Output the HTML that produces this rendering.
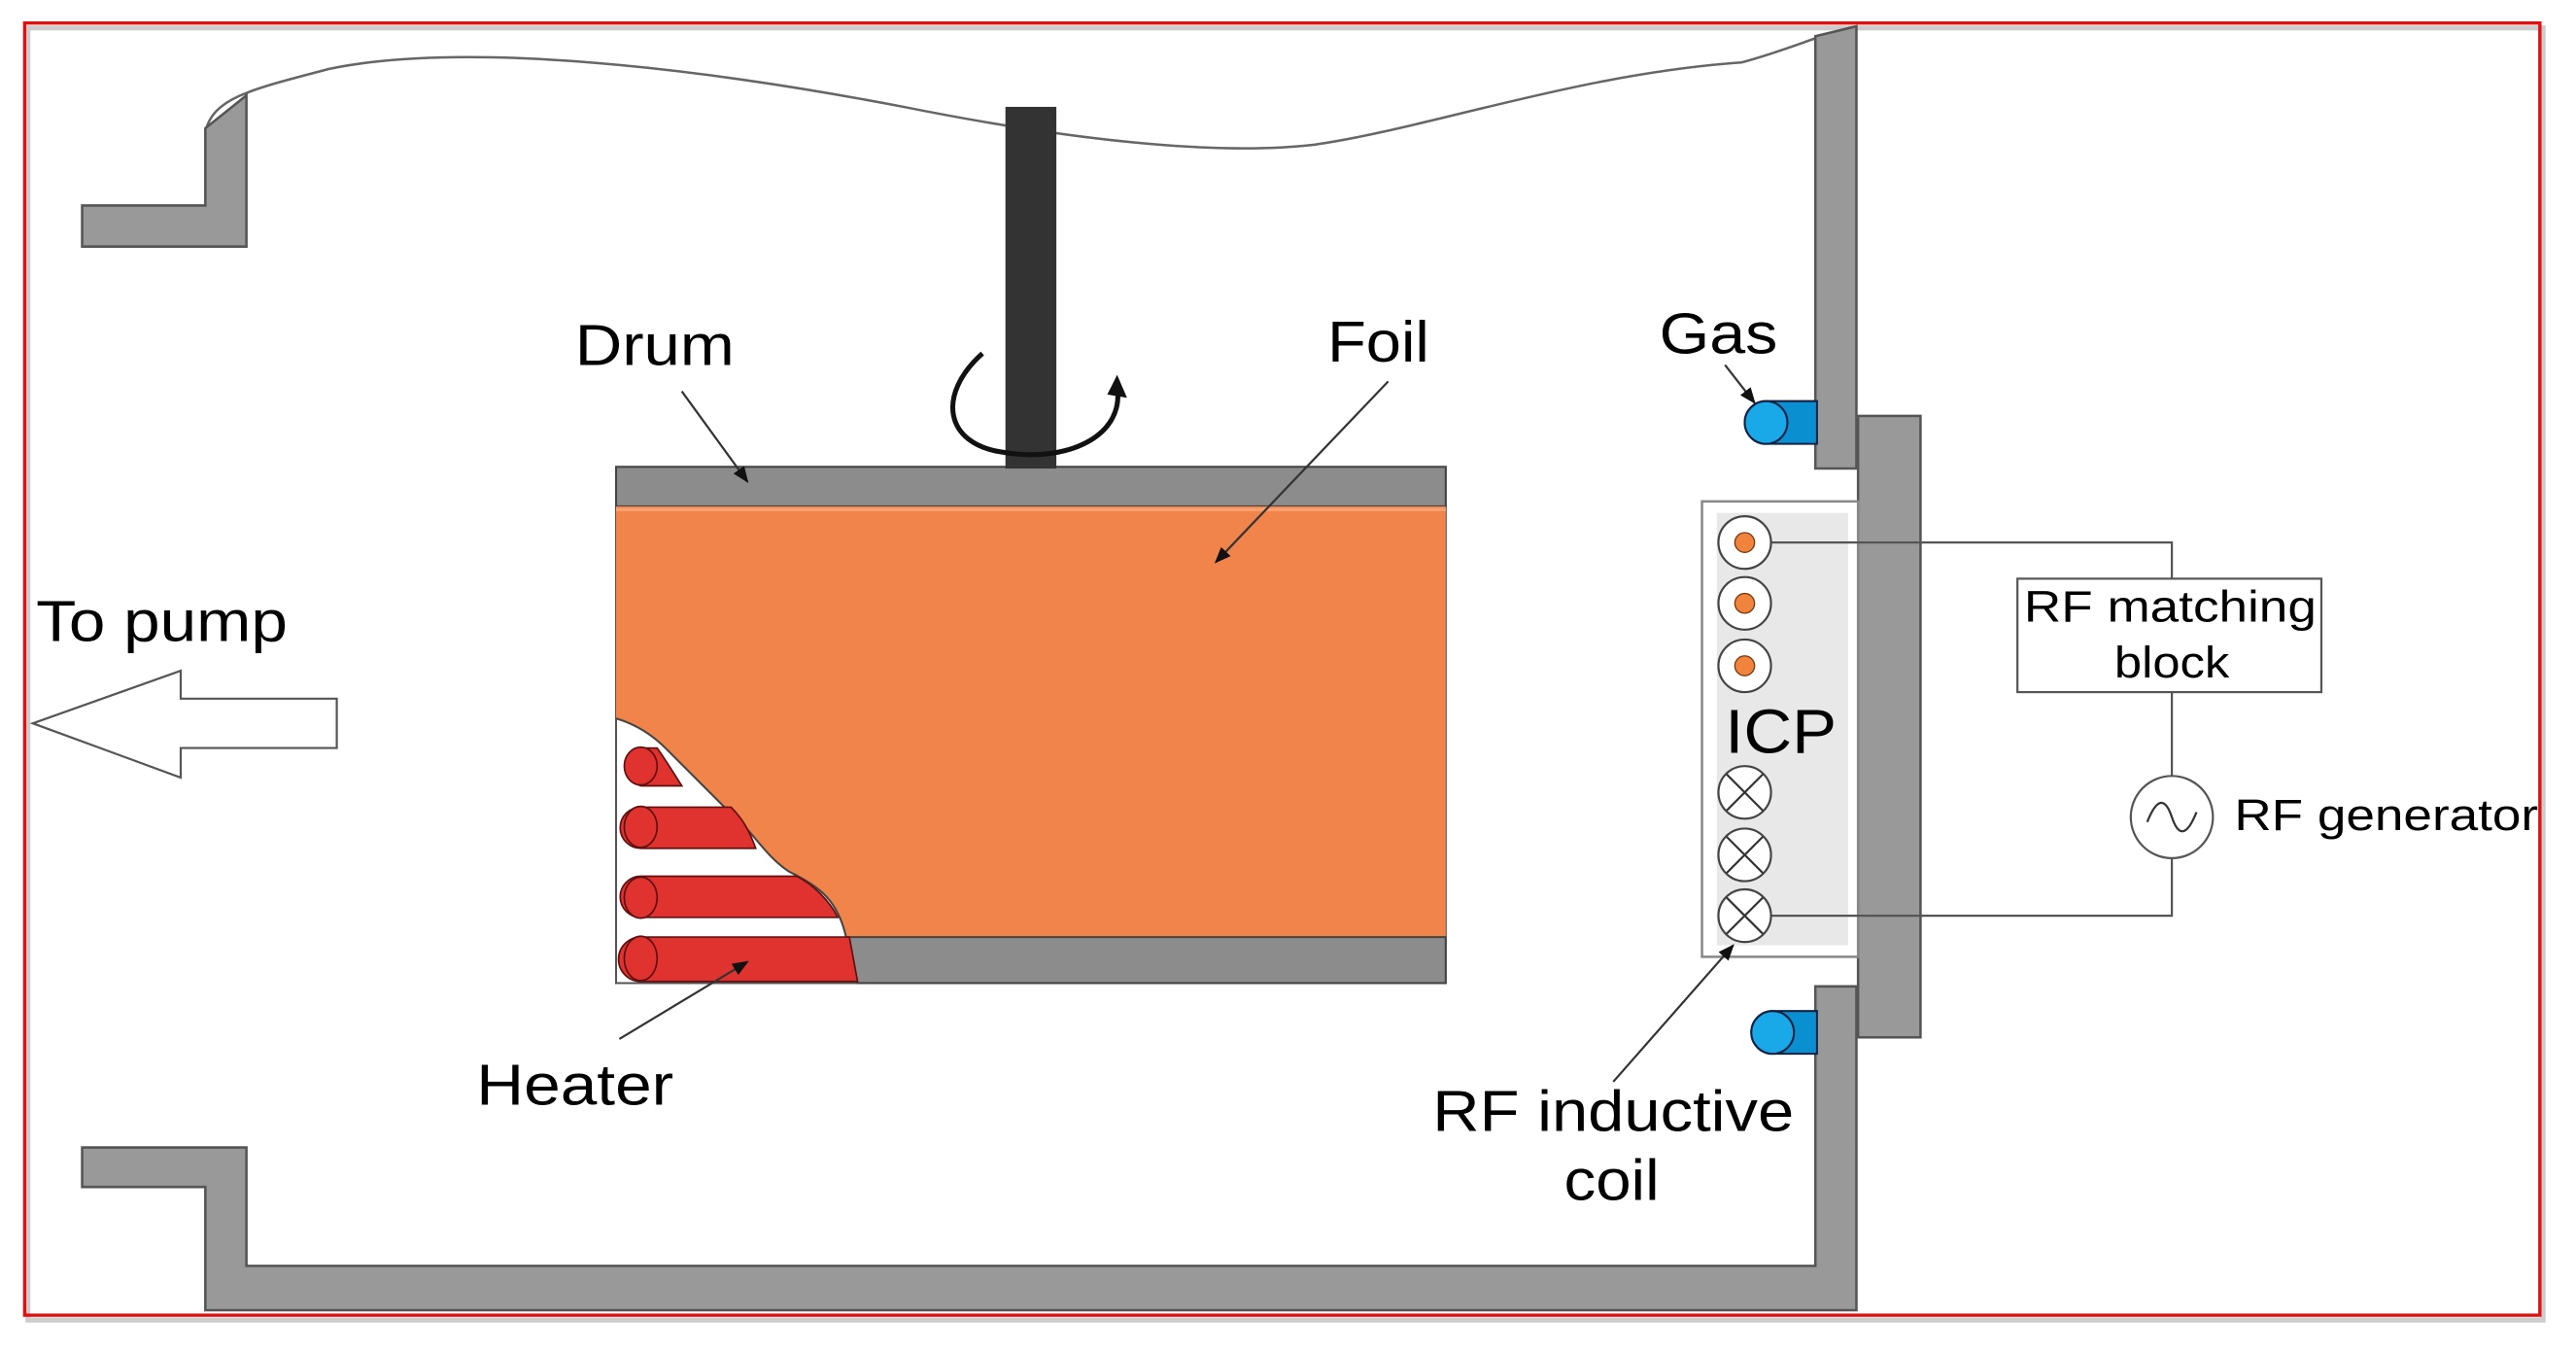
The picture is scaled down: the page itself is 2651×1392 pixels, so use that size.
<!DOCTYPE html>
<html><head><style>html,body{margin:0;padding:0;background:#fff}svg{display:block}</style></head>
<body>
<svg width="2651" height="1392" viewBox="0 0 1568 823" preserveAspectRatio="none" xmlns="http://www.w3.org/2000/svg" font-family="Liberation Sans, sans-serif">
<defs>
<marker id="ah" markerWidth="10" markerHeight="8" refX="9" refY="4" orient="auto" markerUnits="userSpaceOnUse"><path d="M0,0 L10,4 L0,8 Z" fill="#111"/></marker>
</defs>
<rect x="17" y="17" width="1531" height="786" fill="none" stroke="#ccc" stroke-width="3"/>
<rect x="15" y="14" width="1531" height="786" fill="none" stroke="#e01010" stroke-width="2"/>
<!-- wave -->
<path d="M125,80 C130,60 150,55 200,42 C280,25 420,40 550,65 C650,85 740,95 800,88 C870,78 960,45 1060,38 C1090,30 1110,20 1130,16" fill="none" stroke="#666" stroke-width="1.5"/>
<path d="M50,125 H125 V78 L150,58 V150 H50 Z" fill="#999" stroke="#555" stroke-width="1.5"/>
<path d="M50,698 H150 V770 H1105 V600 H1130 V797 H125 V722 H50 Z" fill="#999" stroke="#555" stroke-width="1.5"/>
<path d="M1105,22 L1130,16 V285 H1105 Z" fill="#999" stroke="#555" stroke-width="1.5"/>
<rect x="1131" y="253" width="38" height="378" fill="#999" stroke="#555" stroke-width="1.5"/>
<rect x="1036" y="305" width="95" height="277" fill="#fff" stroke="#888" stroke-width="1.5"/>
<rect x="1045" y="312" width="80" height="263" fill="#e8e8e8"/>
<path d="M1078,330 H1322 V352 M1322,421 V472 M1322,522 V557 H1078" fill="none" stroke="#555" stroke-width="1.3"/>
<rect x="1228" y="352" width="185" height="69" fill="#fff" stroke="#555" stroke-width="1.3"/>
<text x="1232" y="378" font-size="27" textLength="178" lengthAdjust="spacingAndGlyphs">RF matching</text>
<text x="1287" y="412" font-size="27" textLength="70" lengthAdjust="spacingAndGlyphs">block</text>
<circle cx="1322" cy="497" r="25" fill="#fff" stroke="#555" stroke-width="1.3"/>
<path d="M1307,500 C1313,485 1318,485 1322,497 C1326,509 1331,509 1337,494" fill="none" stroke="#333" stroke-width="1.3"/>
<text x="1360" y="505" font-size="27" textLength="185" lengthAdjust="spacingAndGlyphs">RF generator</text>
<g stroke="#444" stroke-width="1.3" fill="#fff">
<circle cx="1062" cy="330" r="16"/><circle cx="1062" cy="367" r="16"/><circle cx="1062" cy="405" r="16"/>
<circle cx="1062" cy="482" r="16"/><circle cx="1062" cy="520" r="16"/><circle cx="1062" cy="557" r="16"/>
</g>
<g fill="#f0843c" stroke="#7a3a10" stroke-width="0.8"><circle cx="1062" cy="330" r="6"/><circle cx="1062" cy="367" r="6"/><circle cx="1062" cy="405" r="6"/></g>
<g stroke="#333" stroke-width="1.3">
<path d="M1051,471 L1073,493 M1073,471 L1051,493"/><path d="M1051,509 L1073,531 M1073,509 L1051,531"/><path d="M1051,546 L1073,568 M1073,546 L1051,568"/>
</g>
<text x="1050" y="458" font-size="38" textLength="68" lengthAdjust="spacingAndGlyphs">ICP</text>
<g fill="#0a8fd0" stroke="#124" stroke-width="1.2">
<path d="M1075,244 H1106 V270 H1075 A13,13 0 0 1 1075,244 Z"/><ellipse cx="1075" cy="257" rx="13" ry="13" fill="#19a8e8"/>
<path d="M1079,615 H1106 V641 H1079 A13,13 0 0 1 1079,615 Z"/><ellipse cx="1079" cy="628" rx="13" ry="13" fill="#19a8e8"/>
</g>
<rect x="375" y="284" width="505" height="314" fill="#fff" stroke="#555" stroke-width="1.2"/>
<rect x="375" y="284" width="505" height="24" fill="#8c8c8c" stroke="#444" stroke-width="1.2"/>
<path d="M375,308 H880 V570 H515 C510,548 500,540 480,530 C465,520 458,505 445,495 C430,480 420,470 405,455 C395,445 385,440 375,437 Z" fill="#f0844b"/>
<path d="M375,310 H880" stroke="#ffa070" stroke-width="2"/>
<path d="M515,570 H880 V598 H522 Z" fill="#8c8c8c" stroke="#444" stroke-width="1.2"/>
<path d="M375,437 C385,440 395,445 405,455 C420,470 430,480 445,495 C458,505 465,520 480,530 C500,540 510,548 515,570 L522,598" fill="none" stroke="#444" stroke-width="1.2"/>
<g fill="#e0322e" stroke="#601010" stroke-width="1">
<path d="M390,455 L400,455 C405,462 410,470 415,478 L390,478 A12,12 0 0 1 390,455 Z"/>
<path d="M390,491 H445 C452,498 456,505 460,516 H390 A12.5,12.5 0 0 1 390,491 Z"/>
<path d="M390,533 H485 C495,538 505,548 510,558 H390 A12.5,12.5 0 0 1 390,533 Z"/>
<path d="M390,570 H517 L522,597 H390 A13.5,13.5 0 0 1 390,570 Z"/>
<ellipse cx="390" cy="466" rx="10" ry="11.5"/><ellipse cx="390" cy="503" rx="10" ry="12.5"/><ellipse cx="390" cy="546" rx="10" ry="12.5"/><ellipse cx="390" cy="583" rx="10" ry="13.5"/>
</g>
<rect x="612" y="65" width="31" height="220" fill="#333"/>
<path d="M598,215 C570,240 575,270 610,275 C650,282 685,265 680,235" fill="none" stroke="#111" stroke-width="3"/>
<path d="M674,240 L680,228 L686,242 Z" fill="#111"/>
<text x="350" y="222" font-size="35" textLength="97" lengthAdjust="spacingAndGlyphs">Drum</text>
<line x1="415" y1="238" x2="455" y2="293" stroke="#333" stroke-width="1.3" marker-end="url(#ah)"/>
<text x="808" y="220" font-size="35" textLength="62" lengthAdjust="spacingAndGlyphs">Foil</text>
<line x1="845" y1="232" x2="740" y2="342" stroke="#333" stroke-width="1.3" marker-end="url(#ah)"/>
<text x="1010" y="215" font-size="35" textLength="72" lengthAdjust="spacingAndGlyphs">Gas</text>
<line x1="1050" y1="222" x2="1068" y2="245" stroke="#333" stroke-width="1.3" marker-end="url(#ah)"/>
<text x="22" y="390" font-size="35" textLength="153" lengthAdjust="spacingAndGlyphs">To pump</text>
<path d="M20,440 L110,408 V425 H205 V455 H110 V473 Z" fill="#fff" stroke="#555" stroke-width="1.3"/>
<text x="290" y="672" font-size="35" textLength="120" lengthAdjust="spacingAndGlyphs">Heater</text>
<line x1="377" y1="632" x2="455" y2="585" stroke="#333" stroke-width="1.3" marker-end="url(#ah)"/>
<text x="872" y="688" font-size="35" textLength="220" lengthAdjust="spacingAndGlyphs">RF inductive</text>
<text x="952" y="730" font-size="35" textLength="58" lengthAdjust="spacingAndGlyphs">coil</text>
<line x1="982" y1="658" x2="1055" y2="575" stroke="#333" stroke-width="1.3" marker-end="url(#ah)"/>
</svg>
</body></html>
